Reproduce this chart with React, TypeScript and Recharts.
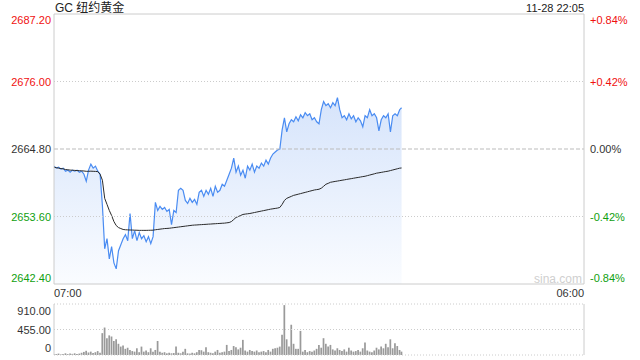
import React from 'react';
import { ComposedChart, BarChart, Bar, Area, Line, XAxis, YAxis, ReferenceLine } from 'recharts';

// minutes after 07:00
const times: number[] = [
  0, 6, 12, 18, 24, 30, 36, 42, 48, 54,
  60, 66, 72, 78, 84, 90, 96, 102, 108, 114,
  120, 126, 132, 138, 144, 150, 156, 162, 168, 174,
  180, 186, 192, 198, 204, 210, 216, 222, 228, 234,
  240, 246, 252, 258, 264, 270, 276, 282, 288, 294,
  300, 306, 312, 318, 324, 330, 336, 342, 348, 354,
  360, 366, 372, 378, 384, 390, 396, 402, 408, 414,
  420, 426, 432, 438, 444, 450, 456, 462, 468, 474,
  480, 486, 492, 498, 504, 510, 516, 522, 528, 534,
  540, 546, 552, 558, 564, 570, 576, 582, 588, 594,
  600, 606, 612, 618, 624, 630, 636, 642, 648, 654,
  660, 666, 672, 678, 684, 690, 696, 702, 708, 714,
  720, 726, 732, 738, 744, 750, 756, 762, 768, 774,
  780, 786, 792, 798, 804, 810, 816, 822, 828, 834,
  840, 846, 852, 858, 864, 870, 876, 882, 888, 894,
  900, 905,
];

const prices: number[] = [
  2661.96, 2661.62, 2661.79, 2661.46, 2661.62, 2661.12, 2661.29, 2660.95, 2661.29, 2661.12,
  2661.29, 2660.95, 2661.12, 2660.62, 2659.45, 2661.29, 2662.29, 2661.62, 2661.96, 2661.12,
  2660.62, 2655.44, 2648.25, 2649.92, 2646.58, 2648.59, 2645.91, 2644.91, 2647.92, 2648.92,
  2649.92, 2650.59, 2649.59, 2654.10, 2649.92, 2651.26, 2649.59, 2650.93, 2649.92, 2650.42,
  2649.42, 2650.26, 2649.09, 2650.26, 2655.94, 2654.60, 2655.27, 2654.77, 2655.10, 2654.44,
  2654.77, 2652.26, 2654.60, 2654.27, 2657.95, 2658.28, 2657.95, 2656.27, 2655.77, 2656.61,
  2655.94, 2656.44, 2655.61, 2657.61, 2657.95, 2656.94, 2657.95, 2657.28, 2658.28, 2656.94,
  2658.61, 2657.61, 2657.95, 2658.95, 2658.61, 2659.62, 2660.62, 2661.62, 2663.30, 2660.95,
  2661.96, 2660.45, 2661.29, 2659.95, 2661.96, 2661.29, 2662.29, 2660.95, 2661.96, 2661.62,
  2662.46, 2661.96, 2662.96, 2662.29, 2663.30, 2663.96, 2664.30, 2664.63, 2664.80, 2667.98,
  2669.98, 2667.64, 2668.98, 2669.65, 2669.31, 2670.15, 2669.48, 2670.48, 2669.98, 2670.82,
  2670.32, 2670.65, 2669.65, 2669.98, 2669.31, 2668.98, 2671.32, 2672.66, 2671.99, 2672.32,
  2671.65, 2672.49, 2671.99, 2673.33, 2671.32, 2669.98, 2670.32, 2669.65, 2670.65, 2669.81,
  2670.32, 2669.31, 2669.98, 2669.48, 2668.48, 2670.32, 2669.98, 2671.32, 2670.32, 2670.65,
  2669.98, 2667.81, 2669.65, 2670.32, 2669.98, 2670.65, 2667.64, 2670.32, 2670.65, 2670.32,
  2671.32, 2671.65,
];

const avgPrices: number[] = [
  2661.79, 2661.70, 2661.62, 2661.55, 2661.50, 2661.40, 2661.35, 2661.30, 2661.28, 2661.25,
  2661.22, 2661.20, 2661.18, 2661.15, 2661.10, 2661.10, 2661.12, 2661.10, 2661.08, 2661.05,
  2660.62, 2659.62, 2656.61, 2655.61, 2654.60, 2653.77, 2652.76, 2652.10, 2651.76, 2651.60,
  2651.45, 2651.40, 2651.38, 2651.36, 2651.35, 2651.33, 2651.32, 2651.30, 2651.30, 2651.30,
  2651.30, 2651.31, 2651.32, 2651.33, 2651.40, 2651.45, 2651.50, 2651.55, 2651.60, 2651.62,
  2651.65, 2651.70, 2651.75, 2651.80, 2651.85, 2651.90, 2651.95, 2652.00, 2652.05, 2652.10,
  2652.15, 2652.18, 2652.20, 2652.23, 2652.25, 2652.28, 2652.30, 2652.33, 2652.35, 2652.38,
  2652.40, 2652.43, 2652.45, 2652.48, 2652.50, 2652.55, 2652.60, 2652.76, 2653.10, 2653.44,
  2653.60, 2653.77, 2653.94, 2654.00, 2654.05, 2654.10, 2654.18, 2654.26, 2654.34, 2654.42,
  2654.50, 2654.58, 2654.66, 2654.74, 2654.82, 2654.88, 2654.94, 2655.00, 2655.10, 2655.61,
  2656.27, 2656.61, 2656.78, 2656.94, 2657.11, 2657.20, 2657.30, 2657.40, 2657.50, 2657.60,
  2657.70, 2657.80, 2657.90, 2658.00, 2658.06, 2658.12, 2658.30, 2658.61, 2658.95, 2659.10,
  2659.28, 2659.35, 2659.42, 2659.48, 2659.55, 2659.62, 2659.68, 2659.75, 2659.82, 2659.88,
  2659.95, 2660.02, 2660.08, 2660.15, 2660.22, 2660.28, 2660.38, 2660.48, 2660.58, 2660.68,
  2660.79, 2660.85, 2660.92, 2660.99, 2661.06, 2661.12, 2661.22, 2661.32, 2661.42, 2661.52,
  2661.62, 2661.65,
];

const volumes: number[] = [
  20, 15, 25, 10, 20, 30, 15, 25, 20, 30,
  20, 25, 40, 55, 75, 45, 60, 35, 50, 70,
  40, 390, 490, 300, 350, 330, 250, 280, 200, 150,
  170, 110, 130, 90, 70, 60, 120, 50, 150, 60,
  80, 50, 120, 60, 90, 250, 60, 40, 50, 30,
  40, 30, 35, 150, 40, 30, 60, 110, 30, 25,
  40, 30, 50, 90, 85, 60, 140, 50, 40, 30,
  60, 90, 40, 50, 60, 180, 70, 90, 160, 140,
  100, 130, 270, 80, 60, 90, 70, 60, 80, 50,
  60, 70, 50, 90, 60, 110, 120, 130, 150, 360,
  890, 280, 150, 540, 200, 110, 110, 430, 60, 90,
  50, 70, 60, 80, 110, 180, 130, 300, 200, 150,
  180, 100, 80, 120, 90, 70, 100, 60, 130, 80,
  60, 70, 90, 60, 120, 225, 80, 60, 50, 80,
  130, 100, 150, 120, 200, 140, 280, 120, 210, 160,
  90, 60,
];

const PREV_CLOSE = 2664.8;
const priceTicks = [2642.4, 2653.6, 2664.8, 2676.0, 2687.2];
const volTicks = [0, 455, 910];
const timeTicks = [0, 1380];
const timeTickLabels = ['07:00', '06:00'];
const titleText = 'GC 纽约黄金';
const stampText = '11-28 22:05';
const watermark = 'sina.com';

const data = times.map((t, i) => ({ t, price: prices[i], avg: avgPrices[i] }));
const volData = times.map((t, i) => ({ t, vol: volumes[i] }));

const FONT = '"Liberation Sans", Arial, "Noto Sans CJK SC", sans-serif';
const RED = '#f01010';
const GREEN = '#10a010';
const DARK = '#333333';
const GRID = '#cccccc';

const colorFor = (v: number) =>
  Math.abs(v - PREV_CLOSE) < 1e-6 ? DARK : v > PREV_CLOSE ? RED : GREEN;

const edgeDy = (v: number, ticks: number[]) =>
  v === ticks[ticks.length - 1] ? 6 : v === ticks[0] ? -6 : 0;

const LeftPriceTick = (props: any) => {
  const { x, y, payload } = props;
  const v = payload.value as number;
  return (
    <text x={x} y={y + edgeDy(v, priceTicks)} textAnchor="end" dominantBaseline="central"
      fill={colorFor(v)} fontSize={11} fontFamily={FONT}>
      {v.toFixed(2)}
    </text>
  );
};

const RightPctTick = (props: any) => {
  const { x, y, payload } = props;
  const v = payload.value as number;
  const pct = ((v - PREV_CLOSE) / PREV_CLOSE) * 100;
  const label = (pct > 0.0001 ? '+' : '') + pct.toFixed(2) + '%';
  return (
    <text x={x} y={y + edgeDy(v, priceTicks)} textAnchor="start" dominantBaseline="central"
      fill={colorFor(v)} fontSize={11} fontFamily={FONT}>
      {label}
    </text>
  );
};

const TimeTick = (props: any) => {
  const { x, y, payload } = props;
  const idx = timeTicks.indexOf(payload.value);
  return (
    <text x={x} y={y + 9} textAnchor={idx === 0 ? 'start' : 'end'} dominantBaseline="central"
      fill={DARK} fontSize={11} fontFamily={FONT}>
      {timeTickLabels[idx]}
    </text>
  );
};

const VolTick = (props: any) => {
  const { x, y, payload } = props;
  const v = payload.value as number;
  const dy = v === volTicks[volTicks.length - 1] ? 7 : v === volTicks[0] ? -7 : 0;
  return (
    <text x={x} y={y + dy} textAnchor="end" dominantBaseline="central"
      fill={DARK} fontSize={11} fontFamily={FONT}>
      {v === 0 ? '0' : v.toFixed(2)}
    </text>
  );
};

export default function App() {
  return (
    <div style={{ position: 'absolute', left: 0, top: 0, width: 640, height: 360, background: '#fff', fontFamily: FONT, overflow: 'hidden' }}>
      <div style={{ position: 'absolute', left: 55, top: 1, fontSize: 12, lineHeight: '14px', color: '#222', whiteSpace: 'nowrap' }}>{titleText}</div>
      <div style={{ position: 'absolute', right: 56, top: 1, fontSize: 11, lineHeight: '14px', color: '#222', whiteSpace: 'nowrap' }}>{stampText}</div>
      <div style={{ position: 'absolute', left: 0, top: 0 }}>
        <ComposedChart width={640} height={300} data={data} margin={{ top: 14, right: 0, bottom: 0, left: 0 }}>
          <defs>
            <linearGradient id="priceFill" x1="0" y1="0" x2="0" y2="1">
              <stop offset="0%" stopColor="#d6e4fb" />
              <stop offset="100%" stopColor="#fafcff" />
            </linearGradient>
          </defs>
          <XAxis dataKey="t" type="number" domain={[0, 1380]} ticks={timeTicks} interval={0} height={16}
            axisLine={false} tickLine={false} tickSize={0} tickMargin={0} tick={<TimeTick />} allowDataOverflow />
          <YAxis yAxisId="left" orientation="left" width={54} domain={[2642.4, 2687.2]} ticks={priceTicks} interval={0}
            axisLine={false} tickLine={false} tickSize={0} tickMargin={3} tick={<LeftPriceTick />} allowDataOverflow />
          <YAxis yAxisId="right" orientation="right" width={56} domain={[2642.4, 2687.2]} ticks={priceTicks} interval={0}
            axisLine={false} tickLine={false} tickSize={0} tickMargin={6} tick={<RightPctTick />} allowDataOverflow />
          <Area yAxisId="left" type="linear" dataKey="price" stroke="#4a8cf2" strokeWidth={1.2}
            fill="url(#priceFill)" fillOpacity={1} dot={false} activeDot={false} isAnimationActive={false} />
          <Line yAxisId="left" type="linear" dataKey="avg" stroke="#2a2a2a" strokeWidth={1}
            dot={false} activeDot={false} isAnimationActive={false} />
          <ReferenceLine yAxisId="left" y={2676.0} stroke={GRID} strokeDasharray="1 2" />
          <ReferenceLine yAxisId="left" y={2653.6} stroke={GRID} strokeDasharray="1 2" />
          <ReferenceLine yAxisId="left" y={2664.8} stroke="#bbbbbb" strokeDasharray="4 2" />
          <ReferenceLine yAxisId="left" y={2687.2} stroke={GRID} />
          <ReferenceLine yAxisId="left" y={2642.4} stroke={GRID} />
          <ReferenceLine yAxisId="left" x={0} stroke={GRID} />
          <ReferenceLine yAxisId="left" x={1380} stroke={GRID} />
        </ComposedChart>
      </div>
      <div style={{ position: 'absolute', right: 58, top: 271, fontSize: 12, lineHeight: '16px', color: '#cfcfcf', whiteSpace: 'nowrap' }}>{watermark}</div>
      <div style={{ position: 'absolute', left: 0, top: 296 }}>
        <BarChart width={640} height={64} data={volData} margin={{ top: 8, right: 56, bottom: 5, left: 0 }}>
          <XAxis dataKey="t" type="number" domain={[0, 1380]} hide allowDataOverflow />
          <YAxis width={54} domain={[0, 910]} ticks={volTicks} interval={0}
            axisLine={false} tickLine={false} tickSize={0} tickMargin={3} tick={<VolTick />} allowDataOverflow />
          <ReferenceLine y={910} stroke={GRID} strokeDasharray="1 2" />
          <ReferenceLine y={455} stroke={GRID} strokeDasharray="1 2" />
          <ReferenceLine y={0} stroke={GRID} strokeDasharray="1 2" />
          <ReferenceLine x={0} stroke={GRID} />
          <ReferenceLine x={1380} stroke={GRID} />
          <Bar dataKey="vol" fill="#9a9a9a" barSize={2.1} isAnimationActive={false} />
        </BarChart>
      </div>
    </div>
  );
}
